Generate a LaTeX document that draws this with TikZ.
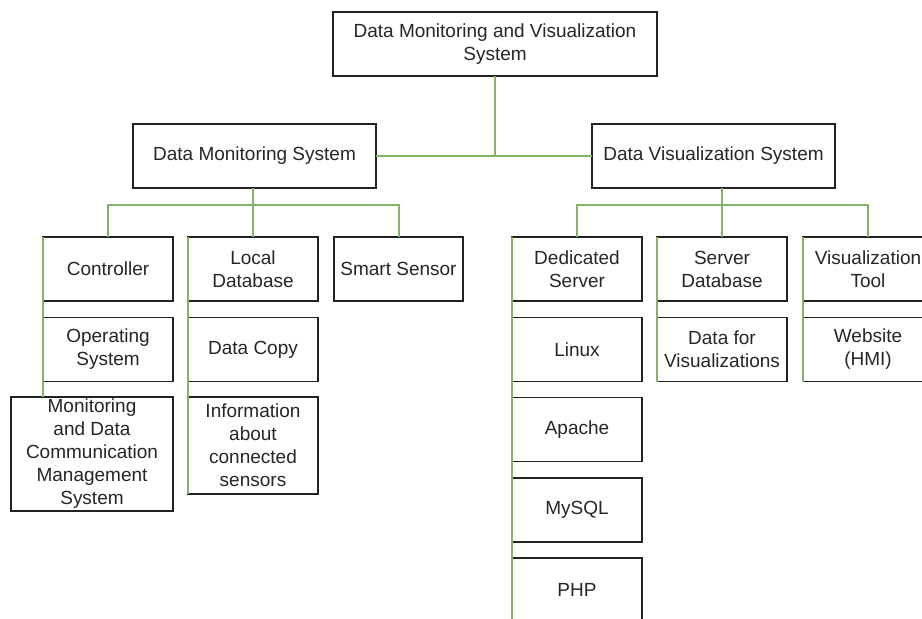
\documentclass[tikz,border=0pt]{standalone}
\usepackage{fontspec}
\setmainfont{Liberation Sans}
\newcommand{\lbl}{\fontsize{19}{23}\selectfont}
\definecolor{linkgreen}{HTML}{82B366}
\definecolor{boxline}{HTML}{222222}
\definecolor{labeltext}{HTML}{262626}
\begin{document}
\begin{tikzpicture}[x=1pt,y=-1pt,
  box/.style={draw=boxline, line width=1.3pt, fill=white, inner sep=0pt,
    outer sep=0pt, align=center, font=\lbl, text=labeltext,
    minimum width=130pt, minimum height=64pt},
  link/.style={draw=linkgreen, line width=2pt}]
\useasboundingbox (0,0) rectangle (922,619);
\clip (0,0) rectangle (922,619);
\fill[white] (0,0) rectangle (922,619);

% top level and the two subsystems
\node[box, minimum width=324pt] (top) at (495,44) {Data Monitoring and Visualization\\System};
\node[box, minimum width=243pt] (dms) at (254.5,156) {Data Monitoring System};
\node[box, minimum width=243pt] (dvs) at (713.5,156) {Data Visualization System};

% monitoring branch
\node[box] (ctrl) at (108,269) {Controller};
\node[box] (os) at (108,349.5) {Operating\\System};
\node[box, minimum width=162pt, minimum height=114pt] (mon) at (92,454)
  {Monitoring\\and Data\\Communication\\Management\\System};
\node[box] (ldb) at (253,269) {Local\\Database};
\node[box] (dcopy) at (253,349.5) {Data Copy};
\node[box, minimum height=97pt] (info) at (253,445.5) {Information\\about\\connected\\sensors};
\node[box, minimum width=129pt] (ss) at (398.5,269) {Smart Sensor};

% visualization branch
\node[box] (ded) at (577,269) {Dedicated\\Server};
\node[box] (linux) at (577,349.5) {Linux};
\node[box] (apache) at (577,429.5) {Apache};
\node[box] (mysql) at (577,510) {MySQL};
\node[box] (php) at (577,590) {PHP};
\node[box] (sdb) at (722,269) {Server\\Database};
\node[box] (dfv) at (722,349.5) {Data for\\Visualizations};
\node[box] (vt) at (868,269) {Visualization\\Tool};
\node[box] (web) at (868,349.5) {Website\\(HMI)};

% bus junctions
\coordinate (busL) at (253,205);
\coordinate (busR) at (722,205);
\coordinate (railEnd) at (512,640);

% upper connectors
\draw[link] (top.south) -- (top.south |- dms.east);
\draw[link] (dms.east) -- (dvs.west);

% monitoring bus
\draw[link] (busL |- dms.south) -- (busL);
\draw[link] (ctrl.north) -- (ctrl.north |- busL) -- (ss.north |- busL) -- (ss.north);
\draw[link] (ldb.north) -- (ldb.north |- busL);

% visualization bus
\draw[link] (busR |- dvs.south) -- (busR);
\draw[link] (ded.north) -- (ded.north |- busR) -- (vt.north |- busR) -- (vt.north);
\draw[link] (sdb.north) -- (sdb.north |- busR);

% side rails along the child stacks
\draw[link] (ctrl.north west) -- (ctrl.west |- mon.north);
\draw[link] (ldb.north west) -- (info.south west);
\draw[link] (ded.north west) -- (railEnd);
\draw[link] (sdb.north west) -- (dfv.south west);
\draw[link] (vt.north west) -- (web.south west);
\end{tikzpicture}
\end{document}
